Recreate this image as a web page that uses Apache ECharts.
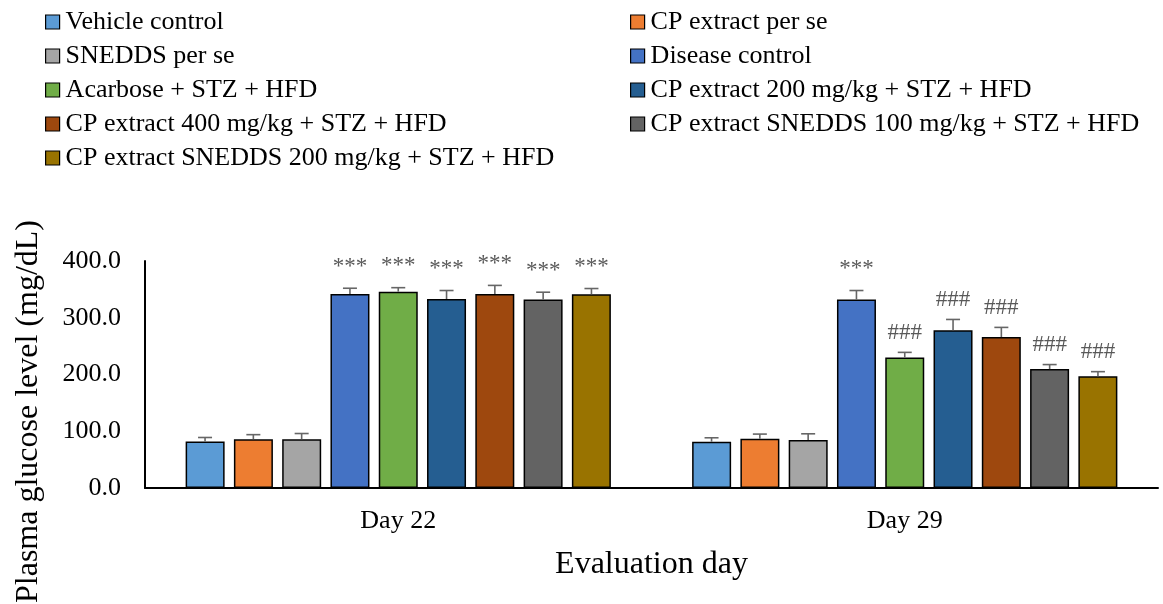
<!DOCTYPE html>
<html>
<head>
<meta charset="utf-8">
<script src="https://cdn.jsdelivr.net/npm/echarts@6/dist/echarts.min.js"></script>
<style>
html,body{margin:0;padding:0;background:#fff;}
#chart{width:1163px;height:604px;}
</style>
</head>
<body>
<div id="chart"></div>
<script>
// ---- data ----
const categories = ['Day 22', 'Day 29'];
const seriesNames = [
  'Vehicle control',
  'CP extract per se',
  'SNEDDS per se',
  'Disease control',
  'Acarbose + STZ + HFD',
  'CP extract 200 mg/kg + STZ + HFD',
  'CP extract 400 mg/kg + STZ + HFD',
  'CP extract SNEDDS 100 mg/kg + STZ + HFD',
  'CP extract SNEDDS 200 mg/kg + STZ + HFD'
];
const vehicleControl   = [82, 81.5];
const cpExtractPerSe   = [86, 87];
const sneddsPerSe      = [86, 84.5];
const diseaseControl   = [342, 332];
const acarbose         = [346, 230];
const cp200            = [333, 278];
const cp400            = [342, 266];
const snedds100        = [332, 209.5];
const snedds200        = [341.5, 197];

const vehicleControlErr = [7, 7];
const cpExtractPerSeErr = [8, 8];
const sneddsPerSeErr    = [10, 11];
const diseaseControlErr = [10, 16];
const acarboseErr       = [7, 9];
const cp200Err          = [15, 19];
const cp400Err          = [15, 17];
const snedds100Err      = [13, 8];
const snedds200Err      = [10, 8];

const vehicleControlSig = ['', ''];
const cpExtractPerSeSig = ['', ''];
const sneddsPerSeSig    = ['', ''];
const diseaseControlSig = ['***', '***'];
const acarboseSig       = ['***', '###'];
const cp200Sig          = ['***', '###'];
const cp400Sig          = ['***', '###'];
const snedds100Sig      = ['***', '###'];
const snedds200Sig      = ['***', '###'];

const yTicks = [0, 100, 200, 300, 400];

// ---- assembly ----
const values = [vehicleControl, cpExtractPerSe, sneddsPerSe, diseaseControl, acarbose, cp200, cp400, snedds100, snedds200];
const errors = [vehicleControlErr, cpExtractPerSeErr, sneddsPerSeErr, diseaseControlErr, acarboseErr, cp200Err, cp400Err, snedds100Err, snedds200Err];
const sigs = [vehicleControlSig, cpExtractPerSeSig, sneddsPerSeSig, diseaseControlSig, acarboseSig, cp200Sig, cp400Sig, snedds100Sig, snedds200Sig];
const colors = ['#5B9BD5', '#ED7D31', '#A5A5A5', '#4472C4', '#70AD47', '#255E91', '#9E480E', '#636363', '#997300'];

const FONT = "'Liberation Serif', 'Times New Roman', serif";
const BAR_W = 39;
const GAP_PX = 9.3;
const STEP = BAR_W + GAP_PX;
const n = seriesNames.length;

const series = [];
seriesNames.forEach((name, i) => {
  series.push({
    name: name,
    type: 'bar',
    barWidth: BAR_W,
    barGap: (GAP_PX / BAR_W * 100).toFixed(1) + '%',
    data: values[i],
    itemStyle: { color: colors[i], borderColor: '#000', borderWidth: 1.5 },
    z: 2
  });
});
seriesNames.forEach((name, i) => {
  series.push({
    name: 'err-' + i,
    type: 'custom',
    z: 5,
    data: categories.map((c, j) => [j, values[i][j], errors[i][j]]),
    renderItem: function (params, api) {
      const cat = api.value(0), v = api.value(1), e = api.value(2);
      const sig = sigs[i][params.dataIndex];
      const base = api.coord([cat, v]);
      const top = api.coord([cat, v + e]);
      const x = base[0] + (i - (n - 1) / 2) * STEP;
      const stroke = { stroke: '#666666', lineWidth: 1.6 };
      const children = [
        { type: 'line', shape: { x1: x, y1: base[1], x2: x, y2: top[1] }, style: stroke },
        { type: 'line', shape: { x1: x - 7, y1: top[1], x2: x + 7, y2: top[1] }, style: stroke }
      ];
      if (sig) {
        children.push({
          type: 'text',
          style: {
            text: sig, x: x, y: top[1] - (sig === '***' ? 10 : 8),
            textAlign: 'center', textVerticalAlign: 'bottom',
            font: '23px ' + FONT, fill: '#595959'
          }
        });
      }
      return { type: 'group', children: children };
    }
  });
});

const leftNames = seriesNames.filter((_, i) => i % 2 === 0);
const rightNames = seriesNames.filter((_, i) => i % 2 === 1);
const legendCommon = {
  orient: 'vertical',
  top: 4,
  itemWidth: 14,
  itemHeight: 14,
  itemGap: 8,
  icon: 'rect',
  itemStyle: { borderColor: '#000', borderWidth: 1.2 },
  textStyle: { fontFamily: FONT, fontSize: 26, color: '#000', lineHeight: 26, padding: [0, 0, 0, 1] }
};

const chart = echarts.init(document.getElementById('chart'), null, { renderer: 'canvas' });
chart.setOption({
  animation: false,
  backgroundColor: '#fff',
  color: colors,
  legend: [
    Object.assign({}, legendCommon, { left: 40, data: leftNames }),
    Object.assign({}, legendCommon, { left: 625, data: rightNames })
  ],
  grid: { left: 145, right: 5, top: 261, bottom: 116, containLabel: false, outerBoundsMode: 'none' },
  xAxis: {
    type: 'category',
    data: categories,
    name: 'Evaluation day',
    nameLocation: 'middle',
    nameGap: 61,
    nameTextStyle: { fontFamily: FONT, fontSize: 32, color: '#000' },
    axisLine: { lineStyle: { color: '#000', width: 2 } },
    axisTick: { show: false },
    axisLabel: { fontFamily: FONT, fontSize: 26, color: '#000', margin: 20 }
  },
  yAxis: {
    type: 'value',
    min: yTicks[0],
    max: yTicks[yTicks.length - 1],
    interval: yTicks[1] - yTicks[0],
    name: 'Plasma glucose level (mg/dL)',
    nameLocation: 'middle',
    nameGap: 100,
    nameTextStyle: { fontFamily: FONT, fontSize: 32, color: '#000', padding: [0, 74, 0, 0] },
    axisLine: { show: true, lineStyle: { color: '#000', width: 2 } },
    axisTick: { show: false },
    splitLine: { show: false },
    axisLabel: { fontFamily: FONT, fontSize: 26, color: '#000', margin: 24, formatter: v => v.toFixed(1) }
  },
  series: series
});
</script>
</body>
</html>
